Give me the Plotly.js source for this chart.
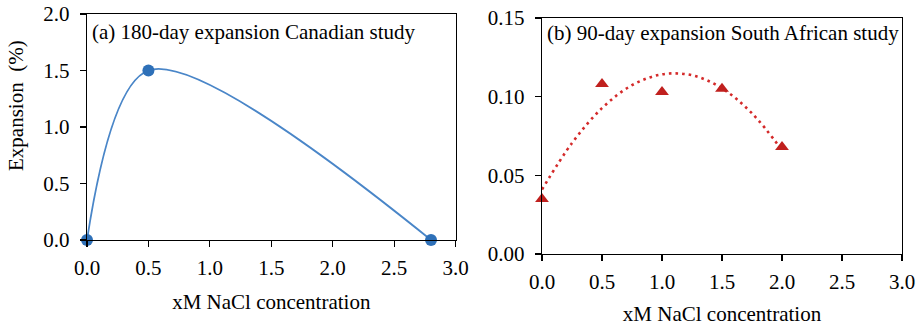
<!DOCTYPE html>
<html>
<head>
<meta charset="utf-8">
<script src="https://cdn.plot.ly/plotly-3.0.1.min.js"></script>
<style>html,body{margin:0;padding:0;background:#fff;}#chart{width:924px;height:326px;}</style>
</head>
<body>
<div id="chart"></div>
<script>
// Panel (a): 180-day expansion, Canadian study
const canX = [0, 0.5, 2.8];
const canY = [0, 1.5, 0];
// Panel (b): 90-day expansion, South African study
const saX = [0, 0.5, 1.0, 1.5, 2.0];
const saY = [0.035, 0.108, 0.103, 0.105, 0.068];
// Polynomial trendline for panel (b)
const trendX = [0, 0.25, 0.5, 0.75, 1.0, 1.25, 1.5, 1.75, 2.0];
const trendY = [0.041, 0.0705, 0.0927, 0.1073, 0.1142, 0.1136, 0.1053, 0.0894, 0.066];
// Tick labels
const tickValsX = [0, 0.5, 1, 1.5, 2, 2.5, 3];
const tickTextX = ['0.0', '0.5', '1.0', '1.5', '2.0', '2.5', '3.0'];
const tickValsYa = [0, 0.5, 1, 1.5, 2];
const tickTextYa = ['0.0', '0.5', '1.0', '1.5', '2.0'];
const tickValsYb = [0, 0.05, 0.10, 0.15];
const tickTextYb = ['0.00', '0.05', '0.10', '0.15'];

const FONT = 'Liberation Serif, Times New Roman, serif';
const FS = 21;
const W = 924, H = 326;

const traces = [
  {x: canX, y: canY, xaxis: 'x', yaxis: 'y', type: 'scatter', mode: 'lines',
   line: {color: '#4a86c8', width: 1.8, shape: 'spline', smoothing: 0.9}, hoverinfo: 'skip', cliponaxis: false},
  {x: canX, y: canY, xaxis: 'x', yaxis: 'y', type: 'scatter', mode: 'markers',
   marker: {color: '#2e70b8', size: 12, symbol: 'circle'}, cliponaxis: false},
  {x: trendX, y: trendY, xaxis: 'x2', yaxis: 'y2', type: 'scatter', mode: 'lines',
   line: {color: '#d42a2a', width: 2.6, dash: '2.6px,4px', shape: 'spline'}, hoverinfo: 'skip', cliponaxis: false},
  {x: saX, y: saY, xaxis: 'x2', yaxis: 'y2', type: 'scatter', mode: 'markers',
   marker: {color: '#c0201e', size: 12, symbol: 'triangle-up'}, cliponaxis: false}
];

function axisCommon() {
  return {
    showgrid: false, zeroline: false, showline: true, mirror: true,
    linecolor: '#000', linewidth: 1.2,
    ticks: 'outside', ticklen: 6, tickwidth: 1.2, tickcolor: '#000',
    tickfont: {family: FONT, size: FS, color: '#000'},
    tickmode: 'array', fixedrange: true
  };
}

const layout = {
  width: W, height: H,
  margin: {l: 0, r: 0, t: 0, b: 0},
  paper_bgcolor: '#fff', plot_bgcolor: '#fff',
  showlegend: false,
  font: {family: FONT, size: FS, color: '#000'},
  xaxis: Object.assign(axisCommon(), {
    domain: [87 / W, 455.6 / W], range: [0, 3], anchor: 'y',
    tickvals: tickValsX, ticktext: tickTextX, ticklabelstandoff: 3,
    title: {text: 'xM NaCl concentration', font: {family: FONT, size: FS, color: '#000'}, standoff: 14}
  }),
  yaxis: Object.assign(axisCommon(), {
    domain: [(H - 240) / H, (H - 14) / H], range: [0, 2], anchor: 'x',
    tickvals: tickValsYa, ticktext: tickTextYa, ticklabelstandoff: 6
  }),
  xaxis2: Object.assign(axisCommon(), {
    domain: [542 / W, 902 / W], range: [0, 3], anchor: 'y2',
    tickvals: tickValsX, ticktext: tickTextX, ticklabelstandoff: 3,
    title: {text: 'xM NaCl concentration', font: {family: FONT, size: FS, color: '#000'}, standoff: 13}
  }),
  yaxis2: Object.assign(axisCommon(), {
    domain: [(H - 254) / H, (H - 18) / H], range: [0, 0.15], anchor: 'x2',
    tickvals: tickValsYb, ticktext: tickTextYb, ticklabelstandoff: 6
  }),
  annotations: [
    {text: 'Expansion  (%)', xref: 'paper', yref: 'paper', x: 16 / W, y: (H - 106) / H,
     textangle: -90, showarrow: false, xanchor: 'center', yanchor: 'middle',
     font: {family: FONT, size: FS, color: '#000'}},
    {text: '(a) 180-day expansion Canadian study', xref: 'paper', yref: 'paper',
     x: 90 / W, y: (H - 32) / H, xanchor: 'left', yanchor: 'middle', showarrow: false,
     font: {family: FONT, size: FS, color: '#000'}},
    {text: '(b) 90-day expansion South African study', xref: 'paper', yref: 'paper',
     x: 545 / W, y: (H - 33) / H, xanchor: 'left', yanchor: 'middle', showarrow: false,
     font: {family: FONT, size: FS, color: '#000'}}
  ]
};

Plotly.newPlot('chart', traces, layout, {displayModeBar: false, staticPlot: true});
</script>
</body>
</html>
